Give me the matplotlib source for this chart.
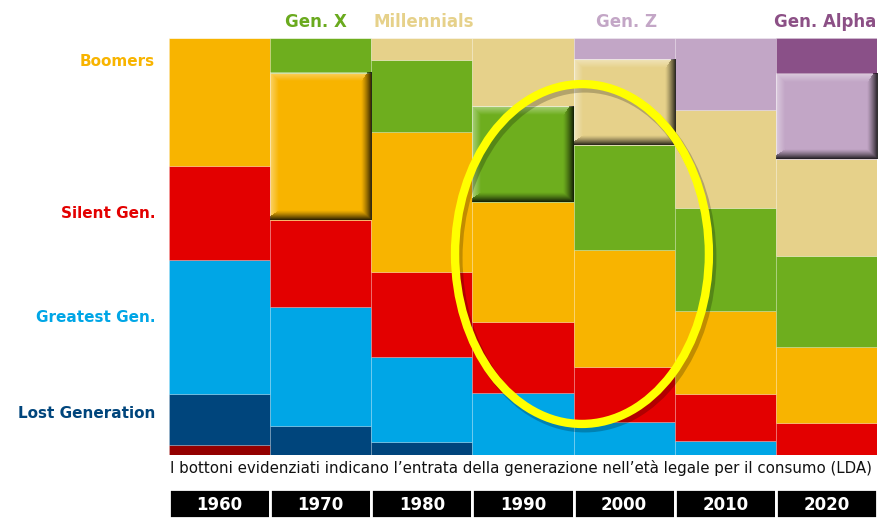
import numpy as np
import matplotlib.pyplot as plt
from matplotlib.patches import Ellipse

decades = ['1960', '1970', '1980', '1990', '2000', '2010', '2020']

# share of each generation per decade (%)
pre_lost = [2.4, 0, 0, 0, 0, 0, 0]
lost = [12.2, 7.0, 3.1, 0, 0, 0, 0]
greatest = [32.1, 28.5, 20.4, 14.9, 7.9, 3.4, 0]
silent = [22.5, 20.9, 20.4, 17.0, 13.2, 11.3, 7.7]
boomers = [30.8, 35.3, 33.6, 28.8, 28.1, 19.9, 18.2]
gen_x = [0, 8.3, 17.3, 23.0, 25.2, 24.7, 21.8]
millennials = [0, 0, 5.2, 16.3, 20.6, 23.5, 23.3]
gen_z = [0, 0, 0, 0, 5.0, 17.2, 20.4]
gen_alpha = [0, 0, 0, 0, 0, 0, 8.6]

series = [pre_lost, lost, greatest, silent, boomers, gen_x, millennials, gen_z, gen_alpha]
colors = ['#930000', '#00457C', '#00A6E6', '#E30000', '#F8B400',
          '#6EAE1E', '#E6D18A', '#C2A6C6', '#8A5088']

# (decade index, series index) of the highlighted "buttons"
buttons = [(1, 4), (3, 5), (4, 6), (6, 7)]

left_labels = ['Boomers', 'Silent Gen.', 'Greatest Gen.', 'Lost Generation']
left_y = [61, 213, 318, 413]
left_colors = ['#F8B400', '#E30000', '#00A6E6', '#00457C']

top_labels = ['Gen. X', 'Millennials', 'Gen. Z', 'Gen. Alpha']
top_x = [316, 424, 627, 825]
top_colors = ['#6AAA1E', '#E6D18A', '#C3A6C6', '#8C5086']

caption = "I bottoni evidenziati indicano l\u2019entrata della generazione nell\u2019et\u00e0 legale per il consumo (LDA)"

W, H = 880, 518
fig = plt.figure(figsize=(W / 100, H / 100), dpi=100)
ax_l, ax_r, ax_t, ax_b = 169, 877, 38, 455
ax = fig.add_axes([ax_l / W, 1 - ax_b / H, (ax_r - ax_l) / W, (ax_b - ax_t) / H])

x = np.arange(len(decades))
data = np.array(series, dtype=float)
data = data / data.sum(axis=0) * 100
bottom = np.zeros(len(decades))
for vals, c in zip(data, colors):
    ax.bar(x, vals, width=1, bottom=bottom, color=c,
           edgecolor=(1, 1, 1, 0.22), linewidth=0.6, zorder=2)
    bottom += vals

px_x = (ax_r - ax_l) / 7.0
px_y = (ax_b - ax_t) / 100.0


def bevel(x0, x1, y0, y1):
    w = int(round((x1 - x0) * px_x))
    h = int(round((y1 - y0) * px_y))
    yy, xx = np.mgrid[0:h, 0:w] + 0.5
    d_top, d_bot = yy, h - yy
    d_left, d_right = xx, w - xx
    dark = np.maximum(np.clip(1 - d_right / 11, 0, 1), np.clip(1 - d_bot / 10, 0, 1))
    dark = dark ** 1.3 * 0.85
    light = np.maximum(np.clip(1 - d_top / 9, 0, 1), np.clip(1 - d_left / 9, 0, 1)) * 0.42
    img = np.zeros((h, w, 4))
    white = light > dark
    img[white, :3] = 1.0
    img[..., 3] = np.maximum(dark, light)
    ax.imshow(img, extent=(x0, x1, y0, y1), aspect='auto', zorder=3,
              interpolation='bilinear')


cum = np.vstack([np.zeros(len(decades)), np.cumsum(data, axis=0)])
for d, s in buttons:
    bevel(d - 0.5, d + 0.5, cum[s, d], cum[s + 1, d])

ax.set_xlim(-0.5, 6.5)
ax.set_ylim(0, 100)
ax.axis('off')

# yellow ellipse with soft shadow
cx, cy, ew, eh = 3.583, 48.2, 2.51, 81.5
ax.add_patch(Ellipse((cx + 3 / px_x, cy - 4 / px_y), ew, eh, fill=False,
                     edgecolor=(0, 0, 0, 0.22), linewidth=6.5, zorder=4, clip_on=False))
ax.add_patch(Ellipse((cx, cy), ew, eh, fill=False, edgecolor='#FFFF00',
                     linewidth=6, zorder=5, clip_on=False))

for t, yp, c in zip(left_labels, left_y, left_colors):
    fig.text(155 / W, 1 - yp / H, t, color=c, fontsize=11, fontweight='bold',
             ha='right', va='center')

for t, xp, c in zip(top_labels, top_x, top_colors):
    fig.text(xp / W, 1 - 22 / H, t, color=c, fontsize=12, fontweight='bold',
             ha='center', va='center')

fig.text(170 / W, 1 - 468 / H, caption, fontsize=10.85, color='#111111',
         ha='left', va='center')

# decade boxes
ax2 = fig.add_axes([ax_l / W, 0, (ax_r - ax_l) / W, 29 / H])
ax2.bar(x, [1] * len(decades), width=1, color='black', edgecolor='white', linewidth=2)
for i, d in enumerate(decades):
    ax2.text(i, 0.45, d, color='white', fontsize=12, fontweight='bold',
             ha='center', va='center')
ax2.set_xlim(-0.5, 6.5)
ax2.set_ylim(0, 1)
ax2.axis('off')

fig.savefig('out.png', dpi=100)
